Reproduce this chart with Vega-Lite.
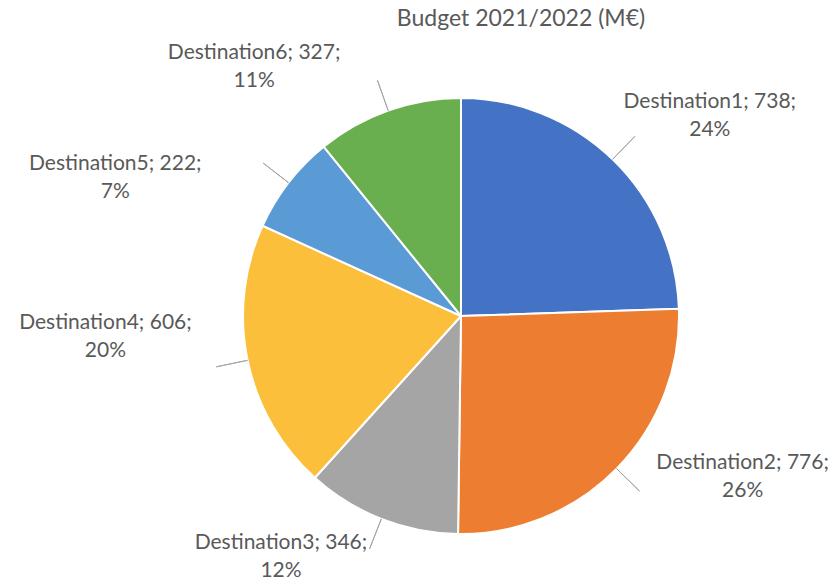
{
  "$schema": "https://vega.github.io/schema/vega-lite/v6.json",
  "width": 700,
  "height": 500,
  "autosize": "none",
  "padding": {"left": 111, "top": 66, "right": 28, "bottom": 15},
  "background": "white",
  "title": {
    "text": "Budget 2021/2022 (M€)",
    "font": "Lato",
    "fontSize": 23,
    "fontWeight": "normal",
    "color": "#595959",
    "anchor": "middle",
    "frame": "group",
    "baseline": "alphabetic",
    "dx": 60,
    "offset": -35
  },
  "data": {
    "values": [
      {"name": "Destination1", "value": 738, "label": "Destination1; 738;\n24%"},
      {"name": "Destination2", "value": 776, "label": "Destination2; 776;\n26%"},
      {"name": "Destination3", "value": 346, "label": "Destination3; 346;\n12%"},
      {"name": "Destination4", "value": 606, "label": "Destination4; 606;\n20%"},
      {"name": "Destination5", "value": 222, "label": "Destination5; 222;\n7%"},
      {"name": "Destination6", "value": 327, "label": "Destination6; 327;\n11%"}
    ]
  },
  "encoding": {
    "theta": {"field": "value", "type": "quantitative", "stack": true},
    "detail": {"field": "name", "type": "nominal"}
  },
  "layer": [
    {
      "mark": {"type": "arc", "radius": 218, "stroke": "white", "strokeWidth": 2},
      "encoding": {
        "color": {
          "field": "name",
          "type": "nominal",
          "scale": {
            "domain": ["Destination1", "Destination2", "Destination3", "Destination4", "Destination5", "Destination6"],
            "range": ["#4472C4", "#ED7D31", "#A5A5A5", "#FCBF3B", "#5B9BD5", "#6AAF4F"]
          },
          "legend": null
        }
      }
    },
    {
      "mark": {"type": "arc", "radius": 250, "radius2": 218, "padAngle": 3.1, "fillOpacity": 0, "stroke": "#a6a6a6", "strokeWidth": 1}
    },
    {
      "mark": {"type": "text", "radius": 260, "dx": 68, "dy": -27, "font": "Lato", "fontSize": 21, "fill": "#595959", "align": "center", "baseline": "middle", "lineBreak": "\n", "lineHeight": 28},
      "encoding": {"text": {"field": "label", "type": "nominal"}, "opacity": {"condition": {"test": "datum.name === 'Destination1'", "value": 1}, "value": 0}}
    },
    {
      "mark": {"type": "text", "radius": 260, "dx": 96, "dy": -35, "font": "Lato", "fontSize": 21, "fill": "#595959", "align": "center", "baseline": "middle", "lineBreak": "\n", "lineHeight": 28},
      "encoding": {"text": {"field": "label", "type": "nominal"}, "opacity": {"condition": {"test": "datum.name === 'Destination2'", "value": 1}, "value": 0}}
    },
    {
      "mark": {"type": "text", "radius": 260, "dx": -85, "dy": -15, "font": "Lato", "fontSize": 21, "fill": "#595959", "align": "center", "baseline": "middle", "lineBreak": "\n", "lineHeight": 28},
      "encoding": {"text": {"field": "label", "type": "nominal"}, "opacity": {"condition": {"test": "datum.name === 'Destination3'", "value": 1}, "value": 0}}
    },
    {
      "mark": {"type": "text", "radius": 260, "dx": -101, "dy": -46, "font": "Lato", "fontSize": 21, "fill": "#595959", "align": "center", "baseline": "middle", "lineBreak": "\n", "lineHeight": 28},
      "encoding": {"text": {"field": "label", "type": "nominal"}, "opacity": {"condition": {"test": "datum.name === 'Destination4'", "value": 1}, "value": 0}}
    },
    {
      "mark": {"type": "text", "radius": 260, "dx": -140, "dy": 7, "font": "Lato", "fontSize": 21, "fill": "#595959", "align": "center", "baseline": "middle", "lineBreak": "\n", "lineHeight": 28},
      "encoding": {"text": {"field": "label", "type": "nominal"}, "opacity": {"condition": {"test": "datum.name === 'Destination5'", "value": 1}, "value": 0}}
    },
    {
      "mark": {"type": "text", "radius": 260, "dx": -120, "dy": -18, "font": "Lato", "fontSize": 21, "fill": "#595959", "align": "center", "baseline": "middle", "lineBreak": "\n", "lineHeight": 28},
      "encoding": {"text": {"field": "label", "type": "nominal"}, "opacity": {"condition": {"test": "datum.name === 'Destination6'", "value": 1}, "value": 0}}
    }
  ]
}
